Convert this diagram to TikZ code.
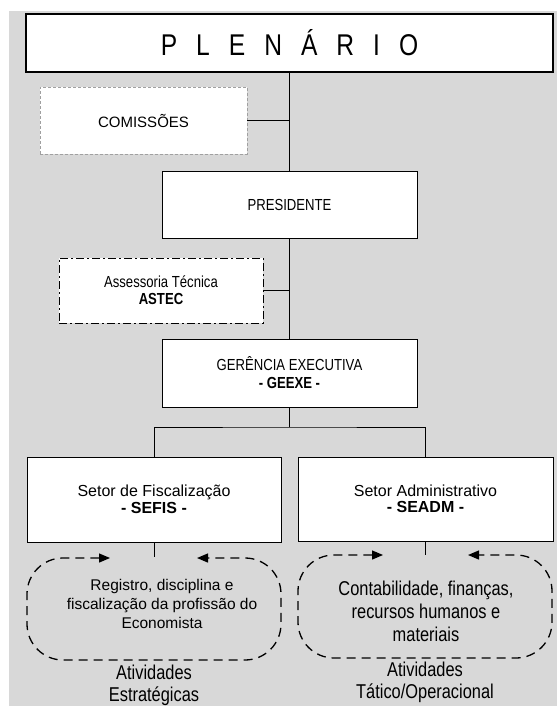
\documentclass[tikz,border=0pt]{standalone}
\usepackage{fontspec}
\setmainfont{Liberation Sans}
\newfontfamily\narrowfont{Liberation Sans}[FakeStretch=0.82]
\usetikzlibrary{arrows.meta}
\definecolor{bg}{RGB}{216,216,216}
\definecolor{comgray}{RGB}{160,160,160}
\newcommand\setfs[2]{\fontsize{#1}{#2}\selectfont}
\begin{document}
\begin{tikzpicture}[x=1pt,y=-1pt,
  box/.style={draw=black, line width=1pt, fill=white, inner sep=0pt, align=center},
  link/.style={draw=black, line width=1pt},
  cloudline/.style={draw=black, line width=1.3pt, dash pattern=on 9pt off 6pt,
    rounded corners=36pt,
    {Triangle[length=11pt,width=9pt]}-{Triangle[length=11pt,width=9pt]}},
  txt/.style={inner sep=0pt, align=center}
]
\useasboundingbox (0,0) rectangle (557,706);
\fill[bg] (9,11) rectangle (557,706);

% boxes
\node[box, line width=1.2pt, minimum width=527pt, minimum height=58pt,
  font=\narrowfont\setfs{30}{36}] (plen) at (289.5,43)
  {\spaceskip=19pt\relax P L E N Á R I O};
\node[box, draw=comgray, line width=0.8pt, dash pattern=on 3pt off 2pt,
  minimum width=207pt, minimum height=67pt, font=\setfs{15}{18}] (com) at (143.5,120.5) {COMISSÕES};
\node[box, minimum width=255pt, minimum height=67pt,
  font=\narrowfont\setfs{16}{18}] (pres) at (289.5,204.5) {PRESIDENTE};
\node[box, dash pattern=on 8pt off 3pt on 2pt off 3pt,
  minimum width=204pt, minimum height=65pt,
  font=\narrowfont\setfs{16}{17}] (astec) at (161,290.5)
  {Assessoria Técnica\\\textbf{ASTEC}};
\node[box, minimum width=255pt, minimum height=68pt,
  font=\narrowfont\setfs{16}{18}] (geexe) at (289.5,373)
  {GERÊNCIA EXECUTIVA\\\textbf{- GEEXE -}};
\node[box, minimum width=254pt, minimum height=85pt,
  font=\setfs{16}{16.5}] (sefis) at (154,499.5)
  {Setor de Fiscalização\\\textbf{- SEFIS -}};
\node[box, minimum width=255pt, minimum height=84pt,
  font=\setfs{16}{16.5}] (seadm) at (425.5,499)
  {Setor Administrativo\\\textbf{- SEADM -}};

% connectors
\coordinate (split) at (289.5,427);
\coordinate (lct) at (154,557);
\coordinate (rct) at (425.5,555);
\draw[link] (plen.south) -- (pres.north);
\draw[link] (com.east) -- (com.east -| plen.south);
\draw[link] (pres.south) -- (geexe.north);
\draw[link] (astec.east) -- (astec.east -| pres.south);
\draw[link] (geexe.south) -- (split);
\draw[link] (sefis.north) |- (split) -| (seadm.north);
\draw[link] (sefis.south) -- (lct);
\draw[link] (seadm.south) -- (rct);

% activity clouds
\draw[cloudline] (110,558) -- (27,558) -- (27,660) -- (281,660) -- (281,558) -- (197,558);
\draw[cloudline] (383,555) -- (298,555) -- (298,658) -- (552,658) -- (552,555) -- (468,555);

\node[txt, font=\setfs{15.5}{19}] (lctext) at (162,604)
  {Registro, disciplina e\\fiscalização da profissão do\\Economista};
\node[txt, font=\narrowfont\setfs{20}{23}] (rctext) at (426,611)
  {Contabilidade, finanças,\\recursos humanos e\\materiais};
\node[txt, font=\narrowfont\setfs{20}{22}] (llab) at (154,685)
  {Atividades\\Estratégicas};
\node[txt, font=\narrowfont\setfs{20}{22}] (rlab) at (425,682)
  {Atividades\\Tático/Operacional};
\end{tikzpicture}
\end{document}
